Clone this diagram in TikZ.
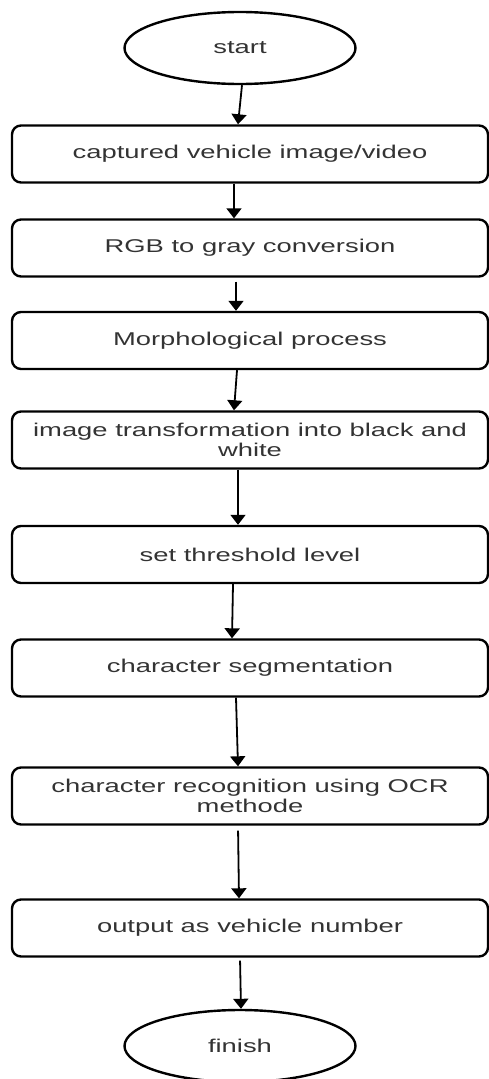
\documentclass[tikz,border=0pt]{standalone}
\usepackage{fontspec}
\setmainfont{Liberation Sans}[FakeStretch=1.48]
\usetikzlibrary{
	arrows.meta,
	shapes.geometric
}

\begin{document}
\begin{tikzpicture}[x=1pt,y=-1pt,
		stepbox/.style={draw=black,line width=2.4pt,rounded corners=9pt,
			minimum width=476pt,minimum height=57pt,inner sep=0pt,align=center,
			text=black!80,font=\fontsize{18.5}{20.7}\selectfont},
		terminal/.style={draw=black,ellipse,line width=2.4pt,
			minimum width=231pt,minimum height=72pt,inner sep=0pt,
			text=black!80,font=\fontsize{18.5}{20.7}\selectfont},
		flow/.style={line width=1.8pt,-{Triangle[width=15pt,length=10pt]}}]
		\useasboundingbox (0,0) rectangle (489,1079);

		\node[terminal] at (240, 48) (start) {start};
		\node[stepbox] at (250, 154) (captured-image)
			{captured vehicle image/video};
		\node[stepbox] at (250, 248) (gray-conversion)
			{RGB to gray conversion};
		\node[stepbox] at (250, 340.5) (morph-process)
			{Morphological process};
		\node[stepbox] at (250, 440) (bw-transform)
			{image transformation into black and \\ white};
		\node[stepbox] at (250, 554.5) (threshold-level)
			{set threshold level};
		\node[stepbox] at (250, 668) (char-segmentation)
			{character segmentation};
		\node[stepbox] at (250, 796) (char-recognition)
			{character recognition using OCR \\ methode};
		\node[stepbox] at (250, 928) (vehicle-number)
			{output as vehicle number};
		\node[terminal] at (240, 1046) (finish) {finish};

		\draw[flow] ([xshift=2pt]start.south) -- ([xshift=-12pt]captured-image.north);
		\draw[flow] ([xshift=-16pt]captured-image.south) -- ([xshift=-16pt]gray-conversion.north);
		\draw[flow,shorten <=4pt] ([xshift=-14pt]gray-conversion.south) -- ([xshift=-14pt]morph-process.north);
		\draw[flow] ([xshift=-13pt]morph-process.south) -- ([xshift=-16pt]bw-transform.north);
		\draw[flow] ([xshift=-12pt]bw-transform.south) -- ([xshift=-12pt]threshold-level.north);
		\draw[flow] ([xshift=-17pt]threshold-level.south) -- ([xshift=-18pt]char-segmentation.north);
		\draw[flow] ([xshift=-14pt]char-segmentation.south) -- ([xshift=-12pt]char-recognition.north);
		\draw[flow,shorten <=5pt] ([xshift=-12pt]char-recognition.south) -- ([xshift=-11pt]vehicle-number.north);
		\draw[flow,shorten <=3pt] ([xshift=-10pt]vehicle-number.south) -- ([xshift=1pt]finish.north);
	\end{tikzpicture}
\end{document}
